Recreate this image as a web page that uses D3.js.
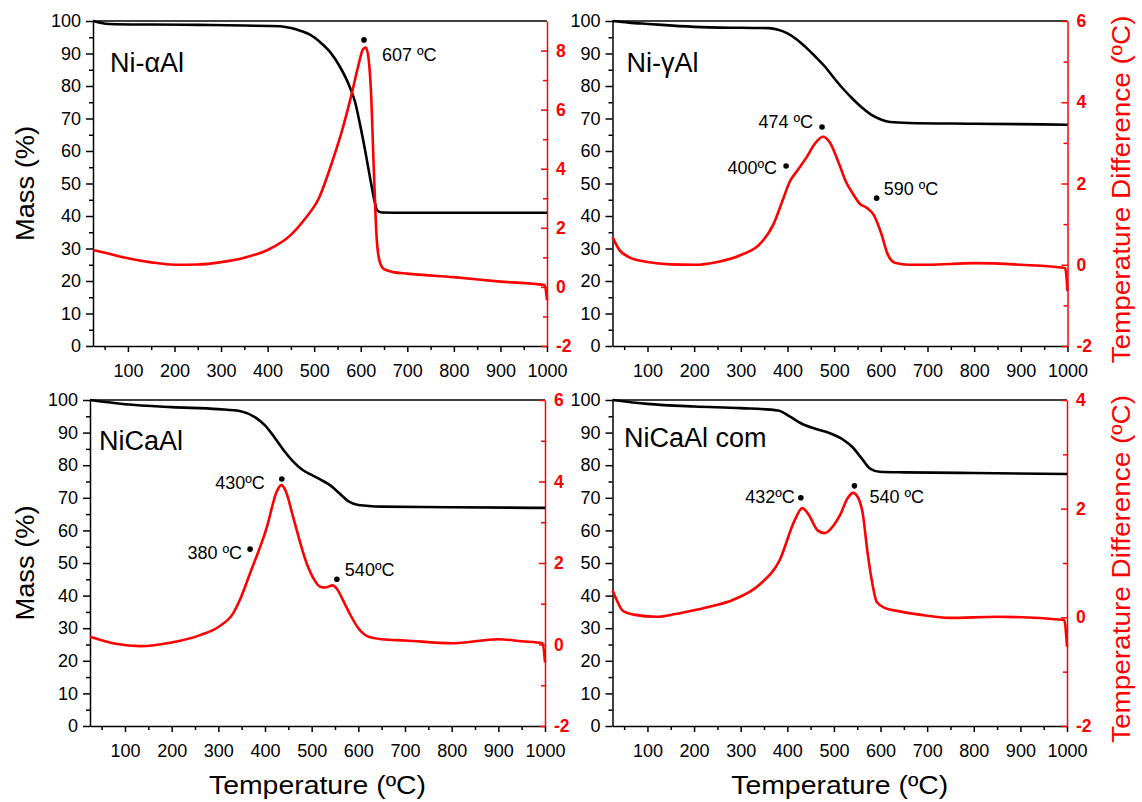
<!DOCTYPE html>
<meta charset="utf-8">
<style>
  body { margin: 0; background: #fff; }
  svg { display: block; font-family: "Liberation Sans", Arial, sans-serif; }
  .tick text { font-family: "Liberation Sans", Arial, sans-serif; font-size: 18px; }
  .dta .tick text { font-size: 17.5px; font-weight: bold; }
  .domain, .tick line { stroke-width: 1.5px; }
  .mass-line { fill: none; stroke: #000; stroke-width: 2.6px; }
  .dta-line { fill: none; stroke: #f00; stroke-width: 2.6px; }
  .note { font-size: 18px; }
  .name { font-size: 27px; }
  .title { font-size: 25px; }
</style>
<body>
<svg width="1142" height="802"></svg>
</body>
<script src="https://d3js.org/d3.v7.min.js"></script>
<script>
// temperature (ºC) vs mass (%) and temperature difference (ºC)
const alphaMass = [[25,100],[40,99.5],[60,99.1],[150,98.9],[250,98.8],[350,98.6],[427,98.4],[448,97.9],[470,97],[491,95.8],[512,93.6],[534,90.5],[555,86],[577,79.5],[588,75],[598,68.5],[609,60.5],[620,51.8],[629,45],[635,41.8],[645,41.1],[700,41],[850,41],[1000,41]];
const alphaDta = [[25,1.25],[60,1.12],[100,0.97],[150,0.83],[200,0.75],[250,0.76],[300,0.84],[350,0.99],[400,1.25],[450,1.76],[480,2.3],[510,3.0],[540,4.3],[560,5.3],[580,6.5],[595,7.5],[605,8.05],[611,8.1],[617,7.7],[622,6.6],[628,4.0],[634,1.7],[640,0.9],[650,0.6],[670,0.5],[700,0.45],[800,0.33],[900,0.18],[995,0.06],[1000,-0.45]];

const gammaMass = [[25,100],[60,99.5],[100,99.1],[200,98.2],[300,97.9],[360,97.8],[380,97.3],[400,96.2],[420,94.3],[440,91.8],[460,89],[480,86],[500,82.4],[520,79],[540,76],[560,73.3],[580,71.1],[600,69.7],[620,68.9],[660,68.6],[800,68.4],[1000,68.1]];
const gammaDta = [[25,0.68],[40,0.36],[60,0.19],[100,0.07],[150,0.01],[200,0.0],[250,0.07],[300,0.24],[340,0.5],[370,1.0],[390,1.6],[405,2.05],[420,2.3],[440,2.63],[460,3.0],[476,3.15],[490,3.02],[510,2.5],[525,2.05],[540,1.75],[555,1.5],[570,1.4],[585,1.22],[600,0.8],[615,0.25],[630,0.05],[660,0.0],[700,0.0],[800,0.04],[900,0.0],[995,-0.08],[1000,-0.65]];

const caMass = [[25,100],[100,98.7],[200,97.8],[300,97.2],[350,96.5],[380,94.6],[400,92.2],[420,88.6],[440,84.6],[460,81.2],[480,78.6],[500,77],[520,75.5],[540,73.8],[560,71.3],[580,68.8],[600,67.8],[650,67.3],[800,67.1],[1000,66.9]];
const caDta = [[25,0.19],[80,0.02],[132,-0.04],[200,0.05],[261,0.23],[300,0.43],[332,0.77],[346,1.09],[368,1.75],[404,2.88],[425,3.75],[435,3.91],[445,3.75],[460,3.14],[489,2.0],[505,1.6],[518,1.42],[530,1.4],[545,1.45],[555,1.35],[567,1.09],[580,0.79],[600,0.4],[620,0.2],[650,0.13],[700,0.1],[800,0.03],[900,0.13],[950,0.08],[995,0.03],[1000,-0.44]];

const comMass = [[25,100],[100,98.8],[200,98],[300,97.5],[380,96.8],[405,95],[430,92.8],[460,91.2],[490,89.9],[520,87.8],[540,85.5],[560,82],[577,79],[598,78],[650,77.8],[800,77.6],[1000,77.3]];
const comDta = [[25,0.5],[35,0.3],[47,0.12],[70,0.05],[120,0.01],[160,0.06],[200,0.13],[240,0.21],[283,0.32],[340,0.6],[384,1.06],[416,1.79],[432,2.01],[445,1.9],[465,1.6],[480,1.55],[500,1.7],[513,1.88],[530,2.2],[541,2.29],[552,2.2],[562,1.9],[572,1.2],[581,0.69],[592,0.28],[610,0.17],[641,0.11],[700,0.03],[748,-0.01],[848,0.01],[994,-0.05],[1000,-0.54]];

// marked peaks: temperature, temperature difference, label
const alphaPeaks = [[607, 8.36, '607 ºC']];
const gammaPeaks = [[474, 3.39, '474 ºC'], [397, 2.43, '400ºC'], [591, 1.64, '590 ºC']];
const caPeaks = [[436, 4.06, '430ºC'], [368, 2.34, '380 ºC'], [554, 1.6, '540ºC']];
const comPeaks = [[429, 2.2, '432ºC'], [544, 2.42, '540 ºC']];

const sampleNames = ['Ni-αAl', 'Ni-γAl', 'NiCaAl', 'NiCaAl com'];
const tempTicks = [100, 200, 300, 400, 500, 600, 700, 800, 900, 1000];
const tempMinor = [50, 150, 250, 350, 450, 550, 650, 750, 850, 950];
const massTicks = [0, 10, 20, 30, 40, 50, 60, 70, 80, 90, 100];
const massMinor = [5, 15, 25, 35, 45, 55, 65, 75, 85, 95];
const dtaDomains = [[-2, 9], [-2, 6], [-2, 6], [-2, 4]];
const dtaTicks = [[-2, 0, 2, 4, 6, 8], [-2, 0, 2, 4, 6], [-2, 0, 2, 4, 6], [-2, 0, 2, 4]];
const dtaMinor = [[-1, 1, 3, 5, 7], [-1, 1, 3, 5], [-1, 1, 3, 5], [-1, 1, 3]];

const series = [
  {mass: alphaMass, dta: alphaDta, peaks: alphaPeaks},
  {mass: gammaMass, dta: gammaDta, peaks: gammaPeaks},
  {mass: caMass, dta: caDta, peaks: caPeaks},
  {mass: comMass, dta: comDta, peaks: comPeaks}
];

// layout
const frames = [
  {x0: 93, x1: 547, y0: 21, y1: 346, name: [17, 51]},
  {x0: 612.5, x1: 1067.5, y0: 21, y1: 346, name: [14, 51]},
  {x0: 90, x1: 545, y0: 400, y1: 726, name: [9, 50]},
  {x0: 612.5, x1: 1067, y0: 400, y1: 726, name: [11.5, 47]}
];
// label offsets from each peak dot: dx, dy, anchor
const noteOffsets = [
  [[18, 21, 'start']],
  [[-9, 1, 'end'], [-9, 8, 'end'], [7, -3, 'start']],
  [[-17, 10, 'end'], [-8, 10, 'end'], [8, -3, 'start']],
  [[-6, 5, 'end'], [15, 17, 'start']]
];

const svg = d3.select('svg');

series.forEach(function(s, i) {
  const f = frames[i];
  const x = d3.scaleLinear().domain([25, 1000]).range([f.x0, f.x1]);
  const yMass = d3.scaleLinear().domain([0, 100]).range([f.y1, f.y0]);
  const yDta = d3.scaleLinear().domain(dtaDomains[i]).range([f.y1, f.y0]);
  const g = svg.append('g');

  // top frame line
  g.append('line')
      .attr('x1', f.x0).attr('x2', f.x1)
      .attr('y1', f.y0).attr('y2', f.y0)
      .attr('stroke', '#000').attr('stroke-width', 1.5);

  g.append('g')
      .attr('transform', `translate(0,${f.y1})`)
      .call(d3.axisBottom(x).tickValues(tempMinor).tickSize(4).tickFormat(''))
      .call(function(a) { a.select('.domain').remove(); });
  g.append('g')
      .attr('transform', `translate(0,${f.y1})`)
      .call(d3.axisBottom(x).tickValues(tempTicks).tickFormat(String).tickSize(6).tickPadding(12).tickSizeOuter(0));

  g.append('g')
      .attr('transform', `translate(${f.x0},0)`)
      .call(d3.axisLeft(yMass).tickValues(massMinor).tickSize(4).tickFormat(''))
      .call(function(a) { a.select('.domain').remove(); });
  g.append('g')
      .attr('transform', `translate(${f.x0},0)`)
      .call(d3.axisLeft(yMass).tickValues(massTicks).tickFormat(String).tickSize(7).tickPadding(5).tickSizeOuter(0));

  g.append('g')
      .attr('class', 'dta')
      .attr('color', '#f00')
      .attr('transform', `translate(${f.x1},0)`)
      .call(d3.axisRight(yDta).tickValues(dtaMinor[i]).tickSize(-4).tickFormat(''))
      .call(function(a) { a.select('.domain').remove(); });
  g.append('g')
      .attr('class', 'dta')
      .attr('color', '#f00')
      .attr('transform', `translate(${f.x1},0)`)
      .call(d3.axisRight(yDta).tickValues(dtaTicks[i]).tickFormat(String).tickSize(-6).tickPadding(9).tickSizeOuter(0));

  const massLine = d3.line().curve(d3.curveMonotoneX)
      .x(function(d) { return x(d[0]); }).y(function(d) { return yMass(d[1]); });
  const dtaLine = d3.line().curve(d3.curveMonotoneX)
      .x(function(d) { return x(d[0]); }).y(function(d) { return yDta(d[1]); });

  g.append('path').attr('class', 'mass-line').attr('d', massLine(s.mass));
  g.append('path').attr('class', 'dta-line').attr('d', dtaLine(s.dta));

  s.peaks.forEach(function(p, k) {
    const o = noteOffsets[i][k];
    g.append('circle')
        .attr('cx', x(p[0])).attr('cy', yDta(p[1])).attr('r', 2.8);
    g.append('text')
        .attr('class', 'note')
        .attr('x', x(p[0]) + o[0]).attr('y', yDta(p[1]) + o[1])
        .attr('text-anchor', o[2])
        .text(p[2]);
  });

  g.append('text')
      .attr('class', 'name')
      .attr('x', f.x0 + f.name[0]).attr('y', f.y0 + f.name[1])
      .text(sampleNames[i]);

  const cy = (f.y0 + f.y1) / 2;
  if (i % 2 === 0) {
    g.append('text')
        .attr('class', 'title')
        .attr('transform', `translate(34,${cy}) rotate(-90)`)
        .attr('text-anchor', 'middle')
        .attr('textLength', 115).attr('lengthAdjust', 'spacingAndGlyphs')
        .text('Mass (%)');
  } else {
    g.append('text')
        .attr('class', 'title')
        .attr('fill', '#f00')
        .attr('transform', `translate(1130,${cy + 6}) rotate(-90)`)
        .attr('text-anchor', 'middle')
        .attr('textLength', 348).attr('lengthAdjust', 'spacingAndGlyphs')
        .text('Temperature Difference (ºC)');
  }
  if (i >= 2) {
    g.append('text')
        .attr('class', 'title')
        .attr('x', (f.x0 + f.x1) / 2).attr('y', 794)
        .attr('text-anchor', 'middle')
        .attr('textLength', 217).attr('lengthAdjust', 'spacingAndGlyphs')
        .text('Temperature (ºC)');
  }
});
</script>
